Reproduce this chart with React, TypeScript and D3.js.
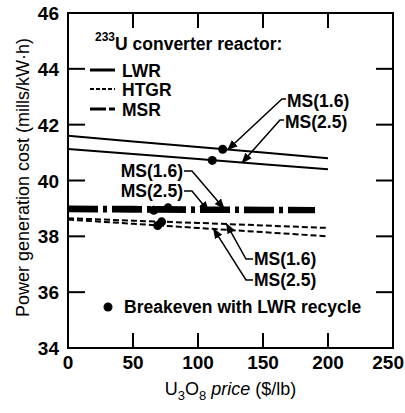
import React from 'react';
import * as d3 from 'd3';

const W = 405;
const H = 413;
const M = { left: 68, right: 12, top: 13, bottom: 65 };

const xTicks = [0, 50, 100, 150, 200, 250];
const yTicks = [34, 36, 38, 40, 42, 44, 46];

const prices = [0, 50, 100, 150, 200];
const lwr16 = [41.6, 41.4, 41.2, 41.0, 40.8];
const lwr25 = [41.13, 40.95, 40.77, 40.58, 40.4];
const htgr16 = [38.65, 38.56, 38.48, 38.39, 38.3];
const htgr25 = [38.6, 38.45, 38.3, 38.15, 38.0];
const msrPrices = [0, 50, 100, 150, 190];
const msr16 = [39.03, 39.02, 39.0, 38.99, 38.98];
const msr25 = [38.93, 38.92, 38.91, 38.9, 38.9];

// breakeven points [price, cost]
const breakeven = [
  [119, 41.12],
  [111, 40.72],
  [77, 39.02],
  [66, 38.93],
  [72, 38.52],
  [69, 38.39],
];

const FONT = 'Liberation Sans, Arial, Helvetica, sans-serif';

const App = () => {
  const x = d3.scaleLinear().domain([0, 250]).range([M.left, W - M.right]);
  const y = d3.scaleLinear().domain([34, 46]).range([H - M.bottom, M.top]);

  const line = d3
    .line<[number, number]>()
    .x((d) => x(d[0]))
    .y((d) => y(d[1]));

  const series = [
    { xs: prices, ys: lwr16, width: 2, dash: null },
    { xs: prices, ys: lwr25, width: 2, dash: null },
    { xs: prices, ys: htgr16, width: 2, dash: '6,3' },
    { xs: prices, ys: htgr25, width: 2, dash: '6,3' },
    { xs: msrPrices, ys: msr16, width: 4, dash: '30,5,4,5' },
    { xs: msrPrices, ys: msr25, width: 4, dash: '30,5,4,5' },
  ];

  // leader annotations: text position + target in data units
  const notes = [
    { text: 'MS(1.6)', tx: 287, ty: 107, hook: [282, 99], target: [123, lwr16], anchor: 'start' },
    { text: 'MS(2.5)', tx: 285, ty: 128, hook: [280, 120], target: [134, lwr25], anchor: 'start' },
    { text: 'MS(1.6)', tx: 183, ty: 177, hook: [192, 171], target: [120, msr16], anchor: 'end' },
    { text: 'MS(2.5)', tx: 183, ty: 197, hook: [192, 191], target: [108, msr25], anchor: 'end' },
    { text: 'MS(1.6)', tx: 254, ty: 265, hook: [246, 259], target: [122, htgr16], anchor: 'start' },
    { text: 'MS(2.5)', tx: 254, ty: 286, hook: [246, 280], target: [112, htgr25], anchor: 'start' },
  ];

  const valueAt = (px: number, xs: number[], ys: number[]) =>
    d3.scaleLinear().domain(xs).range(ys)(px);

  const x0 = x(0);
  const x1 = x(250);
  const y0 = y(34);
  const y1 = y(46);
  const tickLen = 15;

  return (
    <svg width={W} height={H} style={{ position: 'absolute', left: 0, top: 0, background: '#fff' }} fontFamily={FONT}>
      <defs>
        <marker id="arr" viewBox="0 0 10 10" refX="9" refY="5" markerWidth="7" markerHeight="7" orient="auto">
          <path d="M0,1 L10,5 L0,9 Z" fill="#000" />
        </marker>
      </defs>

      {/* frame */}
      <rect x={x0} y={y1} width={x1 - x0} height={y0 - y1} fill="none" stroke="#000" strokeWidth={2} />

      {/* inward ticks */}
      {xTicks.slice(1, -1).map((t) => (
        <g key={'xt' + t}>
          <line x1={x(t)} x2={x(t)} y1={y0} y2={y0 - tickLen} stroke="#000" strokeWidth={2} />
          <line x1={x(t)} x2={x(t)} y1={y1} y2={y1 + tickLen} stroke="#000" strokeWidth={2} />
        </g>
      ))}
      {yTicks.slice(1, -1).map((t) => (
        <g key={'yt' + t}>
          <line x1={x0} x2={x0 + 17} y1={y(t)} y2={y(t)} stroke="#000" strokeWidth={2} />
          <line x1={x1} x2={x1 - 17} y1={y(t)} y2={y(t)} stroke="#000" strokeWidth={2} />
        </g>
      ))}

      {/* tick labels */}
      {xTicks.map((t, i) => {
        const last = i === xTicks.length - 1;
        return (
          <text
            key={'xl' + t}
            x={last ? W - 1 : x(t)}
            y={y0 + 21}
            textAnchor={last ? 'end' : 'middle'}
            fontSize={19}
            fontWeight="bold"
          >
            {t}
          </text>
        );
      })}
      {yTicks.map((t) => (
        <text key={'yl' + t} x={x0 - 9} y={y(t) + 7} textAnchor="end" fontSize={19} fontWeight="bold">
          {t}
        </text>
      ))}

      {/* axis titles */}
      <text
        transform={`translate(29,${(y0 + y1) / 2 - 3}) rotate(-90)`}
        textAnchor="middle"
        fontSize={18}
      >
        Power generation cost (mills/kW·h)
      </text>
      <text x={(x0 + x1) / 2} y={395} textAnchor="middle" fontSize={18}>
        U<tspan fontSize={13} dy={5}>3</tspan>
        <tspan dy={-5}>O</tspan>
        <tspan fontSize={13} dy={5}>8</tspan>
        <tspan dy={-5} fontStyle="italic"> price</tspan>
        <tspan> ($/lb)</tspan>
      </text>

      {/* series */}
      {series.map((s, i) => (
        <path
          key={'s' + i}
          d={line(s.xs.map((v, j) => [v, s.ys[j]] as [number, number])) || ''}
          fill="none"
          stroke="#000"
          strokeWidth={s.width}
          strokeDasharray={s.dash || undefined}
        />
      ))}

      {/* breakeven markers */}
      {breakeven.map((d, i) => (
        <circle key={'b' + i} cx={x(d[0])} cy={y(d[1])} r={4.5} fill="#000" />
      ))}

      {/* leaders */}
      {notes.map((n, i) => {
        const ys = n.target[1] as number[];
        const xs = ys === msr16 || ys === msr25 ? msrPrices : prices;
        const tx = x(n.target[0] as number);
        const ty = y(valueAt(n.target[0] as number, xs, ys));
        const startX = n.anchor === 'start' ? n.tx - 1 : n.tx + 1;
        return (
          <g key={'n' + i}>
            <path
              d={`M${startX},${n.hook[1]} L${n.hook[0]},${n.hook[1]} L${tx},${ty}`}
              fill="none"
              stroke="#000"
              strokeWidth={1.5}
              markerEnd="url(#arr)"
            />
            <text x={n.tx} y={n.ty} textAnchor={n.anchor as any} fontSize={17.5} fontWeight="bold">
              {n.text}
            </text>
          </g>
        );
      })}

      {/* legend */}
      <text x={95} y={50} fontSize={17.5} fontWeight="bold">
        <tspan fontSize={12} dy={-9}>233</tspan>
        <tspan dy={9}>U converter reactor:</tspan>
      </text>
      <line x1={90} x2={115} y1={70} y2={70} stroke="#000" strokeWidth={3} />
      <text x={122} y={77} fontSize={17.5} fontWeight="bold">LWR</text>
      <line x1={90} x2={115} y1={89} y2={89} stroke="#000" strokeWidth={2} strokeDasharray="4,2" />
      <text x={122} y={96} fontSize={17.5} fontWeight="bold">HTGR</text>
      <line x1={90} x2={115} y1={109} y2={109} stroke="#000" strokeWidth={3} strokeDasharray="16,3,6,3" />
      <text x={122} y={116} fontSize={17.5} fontWeight="bold">MSR</text>

      <circle cx={108} cy={307} r={4.5} fill="#000" />
      <text x={124} y={313} fontSize={17.5} fontWeight="bold">
        Breakeven with LWR recycle
      </text>
    </svg>
  );
};

export default App;
